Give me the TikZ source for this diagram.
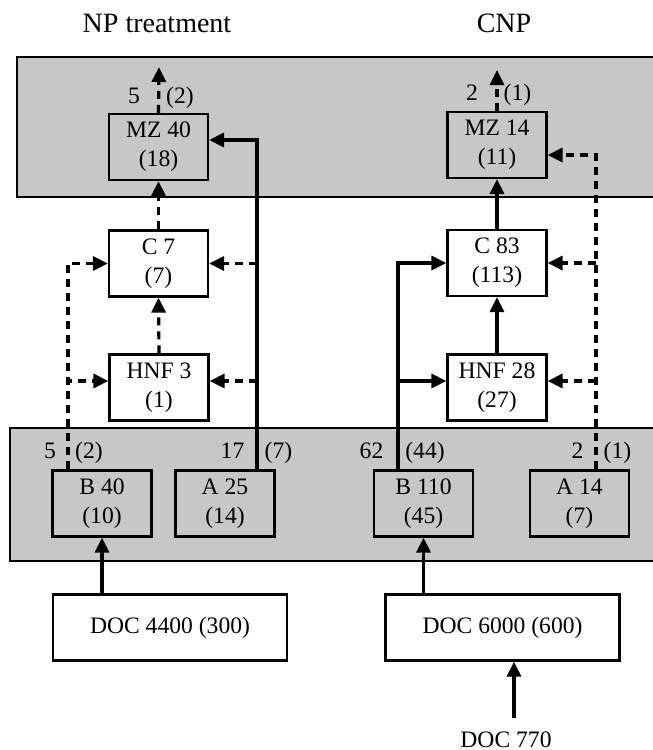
\documentclass[tikz,border=0pt]{standalone}
\usepackage{fontspec}
\setmainfont{Liberation Serif}
\usetikzlibrary{arrows.meta}

\begin{document}
\begin{tikzpicture}[
    x=0.5pt, y=-0.5pt,
    font=\fontsize{11.8}{14.5}\selectfont,
    pool/.style={draw, line width=1pt, fill=black!22},
    box/.style={draw, line width=1.1pt, minimum width=49.5pt, minimum height=33pt, inner sep=0pt, align=center},
    wide/.style={box, minimum width=117pt},
    flow/.style={line width=1.6pt, -{Triangle[length=7.5pt,width=7pt]}},
    dflow/.style={flow, dash pattern=on 4pt off 3pt},
    lab/.style={anchor=base, inner sep=0pt},
    title/.style={anchor=base, font=\fontsize{14}{16}\selectfont}
]
    \useasboundingbox (0,0) rectangle (653,750);

    % Shaded pools
    \draw[pool] (17,57) rectangle (656,197);
    \draw[pool] (10,428) rectangle (656,561);

    % Titles
    \node[title] (nptitle) at (157,32) {NP treatment};
    \node[title] (cnptitle) at (504,32) {CNP};

    % NP treatment
    \node[box] (mz40) at (158.5,147) {MZ 40\\(18)};
    \node[box] (c7) at (158.5,263.5) {C 7\\(7)};
    \node[box] (hnf3) at (159,387.5) {HNF 3\\(1)};
    \node[box] (b40) at (102,503.5) {B 40\\(10)};
    \node[box] (a25) at (225,503.5) {A 25\\(14)};
    \node[wide] (doc1) at (170,627.5) {DOC 4400 (300)};

    % CNP
    \node[box] (mz14) at (497,145) {MZ 14\\(11)};
    \node[box] (c83) at (497,263) {C 83\\(113)};
    \node[box] (hnf28) at (497,387.5) {HNF 28\\(27)};
    \node[box] (b110) at (423.5,503.5) {B 110\\(45)};
    \node[box] (a14) at (579.5,503.5) {A 14\\(7)};
    \node[wide] (doc2) at (502.5,627.5) {DOC 6000 (600)};
    \node[lab] (doc770) at (506,747) {DOC 770};

    % Free ends and branch lines
    \coordinate (npout) at (159,67);
    \coordinate (cnpout) at (497,70);
    \coordinate (npline) at ([xshift=16pt]a25.north);
    \coordinate (cnpline) at ([xshift=8.25pt]a14.north);
    \coordinate (bline) at ([xshift=-17pt]b40.north);
    \coordinate (bbline) at ([xshift=-12.75pt]b110.north);
    \coordinate (docin) at (514,718);

    % NP flows
    \draw[dflow] (mz40.north) -- (npout);
    \draw[dflow] (c7.north) -- (mz40.south);
    \draw[dflow] (hnf3.north) -- (c7.south);
    \draw[flow] (npline) |- ([yshift=3.5pt]mz40.east);
    \draw[dflow] (c7.east -| npline) -- (c7.east);
    \draw[dflow] ([yshift=3.25pt]hnf3.east -| npline) -- ([yshift=3.25pt]hnf3.east);
    \draw[dflow] (bline) |- (c7.west);
    \draw[dflow] (bline) |- ([yshift=3.25pt]hnf3.west);
    \draw[flow] (doc1.north -| b40) -- (b40.south);

    % CNP flows
    \draw[dflow] (mz14.north) -- (cnpout);
    \draw[flow] (c83.north) -- (mz14.south);
    \draw[flow] (hnf28.north) -- (c83.south);
    \draw[dflow] (cnpline) |- ([yshift=-5pt]mz14.east);
    \draw[dflow] (c83.east -| cnpline) -- (c83.east);
    \draw[dflow] ([yshift=3.25pt]hnf28.east -| cnpline) -- ([yshift=3.25pt]hnf28.east);
    \draw[flow] (bbline) |- (c83.west);
    \draw[flow] (bbline) |- ([yshift=3.25pt]hnf28.west);
    \draw[flow] (doc2.north -| b110) -- (b110.south);
    \draw[flow] (docin) -- (docin |- doc2.south);

    % Flow values
    \node[lab] (np1) at (134,103) {5};
    \node[lab] (np2) at (180,103) {(2)};
    \node[lab] (np3) at (50,458) {5};
    \node[lab] (np4) at (89,458) {(2)};
    \node[lab] (np5) at (232.5,458) {17};
    \node[lab] (np6) at (278.5,458) {(7)};
    \node[lab] (cnp1) at (472,100) {2};
    \node[lab] (cnp2) at (517.5,100) {(1)};
    \node[lab] (cnp3) at (371.5,458) {62};
    \node[lab] (cnp4) at (425,458) {(44)};
    \node[lab] (cnp5) at (577.5,458) {2};
    \node[lab] (cnp6) at (617.5,458) {(1)};
\end{tikzpicture}
\end{document}
